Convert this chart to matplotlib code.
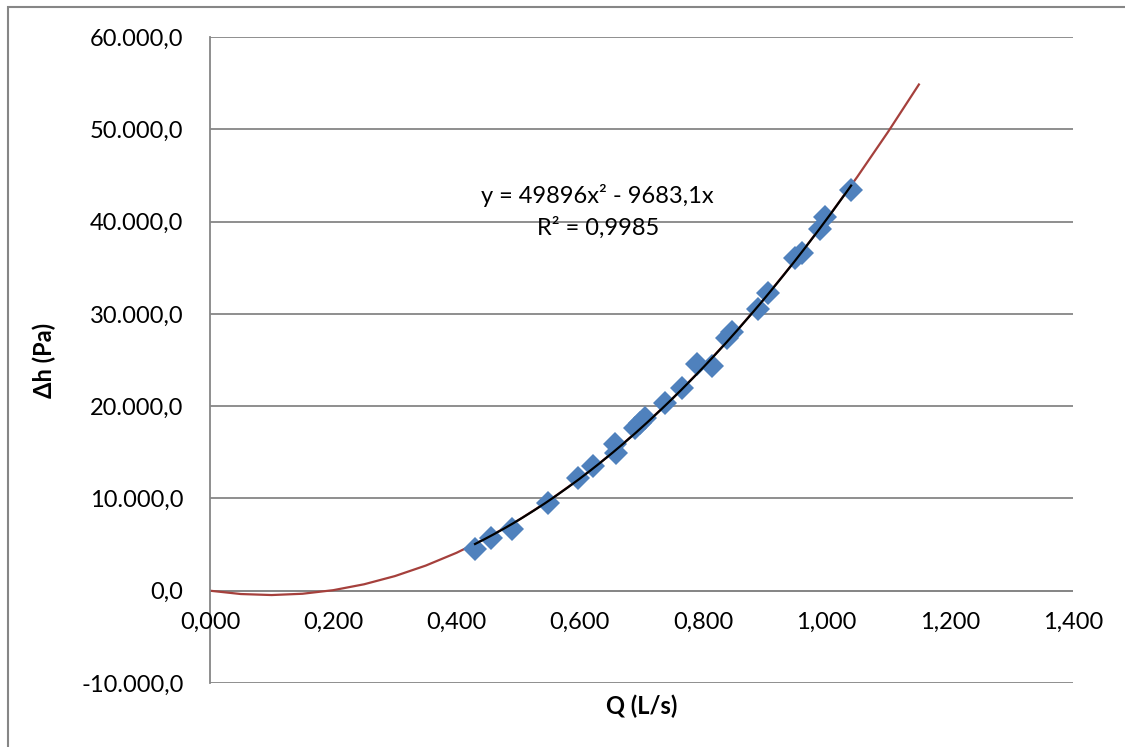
import numpy as np
import matplotlib
matplotlib.use('Agg')
import matplotlib.pyplot as plt
from matplotlib.ticker import FuncFormatter, MultipleLocator
from matplotlib.patches import Rectangle

plt.rcParams['font.family'] = ['Lato', 'DejaVu Sans']

# Measured points: flow Q (L/s) vs head loss dh (Pa)
q = [0.430, 0.456, 0.490, 0.548, 0.597, 0.621, 0.657, 0.659, 0.689, 0.698,
     0.706, 0.738, 0.766, 0.790, 0.814, 0.839, 0.847, 0.889, 0.905, 0.949,
     0.960, 0.990, 0.998, 1.040]
dh = [4550, 5740, 6720, 9530, 12240, 13540, 15930, 14950, 17660, 18200,
      18740, 20370, 21990, 24590, 24380, 27410, 28060, 30550, 32290, 36080,
      36620, 39220, 40520, 43440]

# quadratic fit through origin (from the trendline label)
coef_a = 49896
coef_b = -9683.1
r2 = 0.9985

# model curve evaluated on a 0.05 grid
q_model = np.arange(0, 1.1501, 0.05)
dh_model = coef_a * q_model**2 + coef_b * q_model

q_fit = np.linspace(min(q), max(q), 200)
dh_fit = coef_a * q_fit**2 + coef_b * q_fit

def fmt_y(v, pos):
    s = f'{v:,.1f}'
    return s.replace(',', 'X').replace('.', ',').replace('X', '.')

def fmt_x(v, pos):
    return f'{v:.3f}'.replace('.', ',')

fig = plt.figure(figsize=(11.25, 7.47), dpi=100)
ax = fig.add_axes([210/1125, 1 - 683/747, 863/1125, 646/747])

grid_c = '#868686'
fs = 17
ax.plot(q_model, dh_model, color='#A5403C', lw=1.6, zorder=2)
ax.plot(q, dh, 'D', color='#4F81BD', markersize=12, markeredgewidth=0, zorder=3)
ax.plot(q_fit, dh_fit, color='black', lw=1.6, zorder=4)

ax.set_xlim(0, 1.4)
ax.set_ylim(-10000, 60000)
ax.yaxis.set_major_locator(MultipleLocator(10000))
ax.xaxis.set_major_locator(MultipleLocator(0.2))
ax.yaxis.set_major_formatter(FuncFormatter(fmt_y))
ax.grid(axis='y', color=grid_c, lw=1.3, zorder=0)

for s in ['top', 'right', 'bottom']:
    ax.spines[s].set_visible(False)
ax.spines['left'].set_color(grid_c)
ax.spines['left'].set_linewidth(1.3)
ax.axhline(0, color=grid_c, lw=1.3, zorder=1)

ax.tick_params(axis='y', length=0, pad=19, labelsize=fs)
ax.tick_params(axis='x', length=0)
ax.set_xticklabels([])
# x tick labels sit just under the zero line
for t in ax.get_xticks():
    if 0 <= t <= 1.4001:
        ax.annotate(fmt_x(t, None), xy=(t, 0), xycoords='data',
                    xytext=(0, -23), textcoords='offset points',
                    ha='center', va='center', fontsize=fs)

ax.set_xlabel('Q (L/s)', fontsize=fs, fontweight='bold', labelpad=5)
ax.set_ylabel('Δh (Pa)', fontsize=fs, fontweight='bold', labelpad=18)

ax.text(0.629, 42800, 'y = 49896x² - 9683,1x', ha='center', va='center', fontsize=fs)
ax.text(0.629, 39330, f'R² = {r2}'.replace('.', ','), ha='center', va='center', fontsize=fs)

fig.patches.append(Rectangle((8/1125, -0.1), 1.2, 1 - 7/747 + 0.1, transform=fig.transFigure,
                             fill=False, edgecolor=grid_c, lw=1.5))

fig.savefig('out.png', dpi=100, facecolor='white')
